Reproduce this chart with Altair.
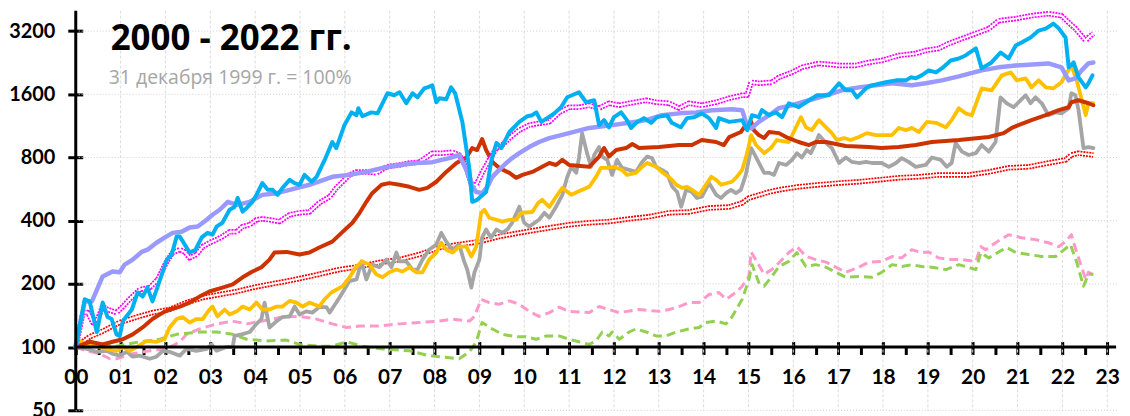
import altair as alt
import pandas as pd

TITLE = "2000 - 2022 гг."
SUBTITLE = "31 декабря 1999 г. = 100%"
Y_TICKS = [50, 100, 200, 400, 800, 1600, 3200]
X_TICKS = list(range(0, 24))
X_ALL_TICKS = [i / 2 for i in range(0, 47)]

BLUE = [(0,100),(0.2,169),(0.31,165),(0.47,118),(0.6,163),(0.71,139),(0.8,136),(0.91,115),(0.98,113),(1.05,133),(1.25,151),(1.38,182),(1.49,174),(1.6,192),(1.71,165),(1.83,195),(2.03,261),(2.14,276),(2.25,336),(2.32,336),(2.43,308),(2.54,282),(2.67,291),(2.81,333),(2.94,350),(3.05,343),(3.14,375),(3.27,391),(3.43,451),(3.54,465),(3.61,513),(3.72,442),(3.81,460),(3.94,492),(4.05,541),(4.16,604),(4.28,561),(4.39,561),(4.5,531),(4.61,573),(4.77,626),(4.88,604),(4.99,593),(5.1,661),(5.26,613),(5.37,647),(5.55,779),(5.72,948),(5.81,887),(5.99,1141),(6.15,1312),(6.26,1272),(6.3,1374),(6.39,1258),(6.59,1312),(6.73,1298),(6.84,1450),(6.95,1618),(7.1,1583),(7.22,1636),(7.37,1450),(7.51,1618),(7.62,1548),(7.77,1708),(7.84,1726),(7.95,1765),(8.04,1466),(8.11,1532),(8.26,1515),(8.37,1726),(8.46,1618),(8.62,1182),(8.78,698),(8.84,492),(8.95,503),(9.15,548),(9.27,779),(9.38,938),(9.49,887),(9.67,1058),(9.89,1182),(10.07,1258),(10.18,1272),(10.27,1312),(10.38,1182),(10.51,1232),(10.67,1298),(10.82,1388),(10.96,1548),(11.22,1636),(11.38,1466),(11.56,1499),(11.67,1141),(11.78,1205),(11.89,1114),(12.0,1245),(12.16,1312),(12.29,1205),(12.38,1106),(12.52,1182),(12.67,1232),(12.83,1170),(12.96,1245),(13.18,1272),(13.29,1170),(13.49,1114),(13.63,1232),(13.79,1245),(13.96,1298),(14.12,1232),(14.28,1106),(14.34,1232),(14.57,1182),(14.86,1205),(14.97,1080),(15.08,1272),(15.23,1245),(15.3,1344),(15.46,1272),(15.61,1312),(15.75,1245),(15.9,1450),(16.12,1391),(16.35,1499),(16.53,1583),(16.79,1583),(17.02,1805),(17.17,1671),(17.31,1671),(17.42,1548),(17.62,1708),(17.75,1765),(18.06,1825),(18.29,1864),(18.51,1864),(18.62,1927),(18.73,1906),(18.86,1969),(19.02,2079),(19.18,2034),(19.31,2125),(19.51,2319),(19.69,2370),(19.84,2449),(20.07,2650),(20.2,2125),(20.42,2269),(20.62,2530),(20.8,2370),(20.96,2732),(21.09,2825),(21.29,2985),(21.47,3218),(21.63,3289),(21.8,3474),(21.92,3289),(22.07,2985),(22.14,2150),(22.25,2269),(22.36,1927),(22.52,1726),(22.58,1805),(22.67,1969)]

LAVENDER = [(0,100),(0.2,165),(0.36,165),(0.6,217),(0.82,229),(0.98,227),(1.09,247),(1.27,261),(1.47,284),(1.6,291),(1.8,314),(1.98,332),(2.16,350),(2.36,354),(2.54,371),(2.72,375),(2.92,404),(3.05,427),(3.21,451),(3.39,492),(3.59,476),(3.88,492),(4.16,531),(4.48,541),(4.77,561),(5.21,593),(5.72,647),(6.1,661),(6.48,683),(6.84,714),(7.22,737),(7.59,753),(7.95,760),(8.33,795),(8.55,822),(8.71,698),(8.82,593),(8.93,548),(9.06,541),(9.18,580),(9.29,647),(9.44,698),(9.6,753),(9.73,795),(9.89,839),(10.11,897),(10.33,948),(10.56,990),(11.0,1045),(11.45,1106),(11.96,1141),(12.34,1170),(12.72,1205),(13.07,1272),(13.45,1298),(13.83,1312),(14.19,1344),(14.63,1357),(14.86,1344),(14.97,1130),(15.06,1100),(15.23,1182),(15.46,1272),(15.68,1374),(15.97,1419),(16.35,1499),(16.73,1583),(17.08,1671),(17.46,1726),(17.84,1765),(18.2,1805),(18.64,1765),(18.95,1805),(19.31,1864),(19.69,1948),(20.2,2079),(20.58,2150),(20.96,2196),(21.69,2245),(21.98,2150),(22.14,1864),(22.29,1906),(22.43,2079),(22.58,2245),(22.69,2269)]

MAGENTA = [(0,100),(0.16,146),(0.27,146),(0.38,131),(0.49,136),(0.6,156),(0.71,151),(0.91,146),(1.05,156),(1.2,169),(1.43,188),(1.65,192),(1.83,210),(2.03,256),(2.16,282),(2.32,291),(2.43,284),(2.54,266),(2.69,276),(2.83,301),(2.98,314),(3.14,325),(3.27,336),(3.43,354),(3.59,354),(3.72,375),(3.88,383),(4.03,404),(4.16,408),(4.32,404),(4.54,396),(4.77,427),(4.99,436),(5.21,440),(5.43,486),(5.66,520),(5.81,573),(5.95,613),(6.1,661),(6.26,683),(6.48,683),(6.7,676),(6.93,722),(7.22,737),(7.44,753),(7.66,760),(7.95,839),(8.17,839),(8.4,848),(8.55,822),(8.71,722),(8.82,593),(8.93,593),(9.06,676),(9.22,779),(9.38,887),(9.51,917),(9.67,990),(9.89,1080),(10.11,1141),(10.33,1164),(10.56,1182),(10.78,1312),(11.0,1388),(11.22,1388),(11.45,1419),(11.67,1374),(11.89,1450),(12.12,1419),(12.34,1450),(12.72,1499),(12.94,1466),(13.23,1450),(13.45,1374),(13.67,1450),(13.96,1419),(14.28,1466),(14.57,1532),(14.86,1583),(14.97,1583),(15.06,1825),(15.23,1805),(15.52,1825),(15.68,1927),(15.97,2034),(16.19,2150),(16.57,2245),(17.02,2196),(17.39,2196),(17.68,2269),(17.97,2319),(18.35,2449),(18.73,2504),(18.95,2587),(19.24,2643),(19.47,2793),(19.76,2948),(20.07,3114),(20.36,3288),(20.58,3588),(20.96,3668),(21.31,3790),(21.69,3874),(21.98,3790),(22.14,3513),(22.29,3288),(22.52,2885),(22.58,2982),(22.69,3114)]

DARKRED = [(0,100),(0.31,106),(0.6,103),(0.82,106),(1.05,109),(1.27,115),(1.49,124),(1.71,136),(1.94,146),(2.09,151),(2.32,156),(2.54,163),(2.76,174),(2.98,184),(3.27,192),(3.5,199),(3.72,215),(3.94,229),(4.14,240),(4.32,261),(4.43,282),(4.7,284),(4.99,276),(5.21,282),(5.43,298),(5.72,318),(5.95,354),(6.17,391),(6.33,436),(6.48,492),(6.61,541),(6.82,593),(6.99,604),(7.22,593),(7.44,580),(7.66,561),(7.84,573),(8.04,613),(8.26,683),(8.49,753),(8.71,800),(8.84,887),(8.95,868),(9.06,980),(9.15,868),(9.29,762),(9.44,714),(9.67,676),(9.82,640),(9.96,661),(10.18,683),(10.4,722),(10.56,753),(10.71,737),(10.85,779),(11.0,737),(11.45,722),(11.67,808),(11.78,887),(11.89,808),(12.05,868),(12.27,887),(12.41,927),(12.56,887),(13.01,897),(13.45,917),(13.74,917),(13.96,969),(14.28,948),(14.45,917),(14.57,1001),(14.83,1058),(14.94,1141),(15.06,1182),(15.12,1080),(15.23,1023),(15.35,990),(15.46,1058),(15.68,1045),(15.84,1001),(16.12,948),(16.35,917),(16.5,948),(16.73,948),(17.17,907),(17.68,897),(17.97,887),(18.35,897),(18.73,917),(19.09,948),(19.69,969),(20.36,1001),(20.69,1045),(20.87,1106),(21.02,1141),(21.31,1205),(21.63,1272),(21.92,1344),(22.14,1388),(22.2,1466),(22.36,1499),(22.58,1450),(22.69,1419)]

RED = [(0,100),(0.31,112),(0.6,119),(0.98,131),(1.36,139),(1.71,146),(2.09,151),(2.47,163),(2.83,172),(3.21,178),(3.59,184),(3.94,192),(4.32,199),(4.7,206),(5.21,217),(5.88,234),(6.33,242),(6.77,253),(7.22,261),(7.66,276),(8.11,298),(8.55,308),(9.0,318),(9.44,336),(9.89,350),(10.33,363),(11.0,383),(11.45,391),(11.89,396),(12.34,408),(12.78,418),(13.23,436),(13.67,440),(14.12,460),(14.57,465),(14.86,486),(15.01,513),(15.46,548),(15.68,561),(16.12,580),(16.57,593),(17.02,604),(17.46,613),(17.91,626),(18.35,640),(18.8,647),(19.24,661),(19.91,661),(20.36,683),(20.8,714),(21.25,722),(21.69,753),(22.07,779),(22.2,822),(22.36,839),(22.69,822)]

YELLOW = [(0,100),(0.09,107),(0.24,103),(0.47,101),(0.69,98),(0.91,96),(1.05,100),(1.2,96),(1.36,100),(1.58,107),(1.8,106),(1.98,109),(2.09,124),(2.25,136),(2.38,139),(2.54,131),(2.69,136),(2.83,136),(2.98,151),(3.05,156),(3.16,140),(3.32,151),(3.43,143),(3.59,148),(3.72,156),(3.88,151),(4.03,163),(4.16,151),(4.32,151),(4.48,156),(4.61,156),(4.77,166),(4.92,163),(5.06,156),(5.21,163),(5.43,156),(5.55,169),(5.7,182),(5.95,195),(6.1,214),(6.26,242),(6.39,256),(6.55,247),(6.7,222),(6.84,215),(6.99,227),(7.15,234),(7.28,229),(7.44,240),(7.59,227),(7.73,227),(7.88,261),(8.04,282),(8.15,314),(8.26,291),(8.4,282),(8.55,301),(8.71,301),(8.82,270),(8.93,301),(9.04,436),(9.11,451),(9.22,413),(9.38,404),(9.51,396),(9.67,404),(9.82,404),(9.93,436),(10.18,440),(10.31,486),(10.4,503),(10.56,465),(10.71,520),(10.85,573),(11.05,531),(11.18,548),(11.45,580),(11.6,647),(11.71,714),(11.85,714),(12.0,722),(12.18,698),(12.29,661),(12.49,676),(12.63,722),(12.74,753),(12.94,722),(13.07,683),(13.27,633),(13.39,593),(13.52,573),(13.63,580),(13.74,561),(13.9,531),(14.05,593),(14.17,647),(14.28,626),(14.39,593),(14.63,613),(14.74,647),(14.86,698),(14.97,839),(15.06,1023),(15.17,917),(15.35,839),(15.5,887),(15.63,969),(15.9,948),(16.06,1114),(16.17,1245),(16.28,1114),(16.41,1080),(16.57,1205),(16.73,1114),(16.86,1045),(16.97,969),(17.13,990),(17.28,969),(17.46,1001),(17.64,1045),(17.84,1023),(18.2,1023),(18.35,1106),(18.51,1080),(18.64,1106),(18.8,1058),(18.98,1182),(19.18,1170),(19.4,1114),(19.53,1205),(19.69,1374),(19.84,1298),(19.98,1272),(20.2,1708),(20.42,1671),(20.65,1969),(20.85,2034),(20.98,1864),(21.18,1906),(21.31,1726),(21.47,1864),(21.63,1726),(21.8,1708),(21.98,1825),(22.09,2011),(22.2,2196),(22.32,1864),(22.52,1272),(22.58,1450),(22.69,1450)]

GRAY = [(0,100),(0.24,98),(0.47,95),(0.69,96),(0.82,93),(0.98,91),(1.14,95),(1.27,90),(1.43,91),(1.65,88),(1.8,90),(1.94,96),(2.09,95),(2.32,91),(2.47,98),(2.69,96),(2.92,98),(3.03,103),(3.14,96),(3.36,100),(3.5,100),(3.54,113),(3.7,115),(3.88,118),(4.03,129),(4.14,136),(4.21,163),(4.32,124),(4.48,133),(4.61,139),(4.77,140),(4.88,156),(4.99,143),(5.14,148),(5.28,146),(5.43,155),(5.59,155),(5.66,146),(5.81,163),(5.95,182),(6.1,206),(6.26,210),(6.37,256),(6.48,210),(6.61,247),(6.77,240),(6.93,261),(7.04,240),(7.15,282),(7.22,256),(7.37,256),(7.51,234),(7.62,234),(7.73,261),(7.88,291),(8.04,308),(8.15,350),(8.26,318),(8.4,291),(8.55,308),(8.66,256),(8.73,234),(8.82,192),(8.89,227),(9.0,261),(9.06,332),(9.15,363),(9.26,332),(9.38,363),(9.51,350),(9.62,363),(9.73,391),(9.89,466),(10.0,391),(10.11,375),(10.33,404),(10.45,436),(10.56,413),(10.71,466),(10.85,531),(10.96,647),(11.05,722),(11.16,676),(11.22,795),(11.29,1045),(11.4,839),(11.49,722),(11.56,822),(11.67,897),(11.74,808),(11.85,779),(11.96,661),(12.07,779),(12.18,714),(12.34,698),(12.49,683),(12.63,762),(12.74,808),(12.85,795),(12.94,722),(13.07,698),(13.18,676),(13.3,580),(13.41,548),(13.5,466),(13.61,561),(13.74,548),(13.85,513),(13.96,520),(14.12,604),(14.28,531),(14.39,513),(14.5,541),(14.61,561),(14.72,541),(14.83,561),(14.94,661),(15.06,887),(15.17,800),(15.28,722),(15.35,676),(15.46,676),(15.57,661),(15.68,753),(15.84,737),(15.97,779),(16.08,839),(16.19,800),(16.3,868),(16.39,839),(16.5,938),(16.57,1023),(16.73,938),(16.86,887),(17.02,753),(17.17,800),(17.31,762),(17.46,753),(17.62,762),(17.75,753),(17.97,753),(18.13,722),(18.29,753),(18.42,795),(18.57,762),(18.73,722),(18.95,737),(19.09,800),(19.29,779),(19.42,722),(19.53,753),(19.62,938),(19.76,853),(19.91,822),(20.07,839),(20.2,917),(20.36,853),(20.51,948),(20.62,1548),(20.76,1450),(20.91,1388),(21.07,1499),(21.18,1583),(21.29,1450),(21.4,1548),(21.54,1450),(21.69,1272),(21.85,1312),(21.98,1298),(22.14,1374),(22.2,1618),(22.29,1583),(22.36,1344),(22.47,887),(22.58,897),(22.69,887)]

PINK = [(0,100),(0.24,96),(0.53,93),(0.76,88),(0.91,88),(1.27,93),(1.65,96),(2.03,98),(2.32,106),(2.47,115),(2.76,122),(3.14,129),(3.5,133),(3.81,129),(4.16,133),(4.61,139),(4.99,140),(5.37,136),(5.72,129),(6.04,124),(6.33,126),(6.77,126),(7.22,129),(7.66,131),(8.11,133),(8.4,136),(8.78,133),(8.89,140),(9.04,169),(9.22,163),(9.44,160),(9.67,166),(9.89,160),(10.11,148),(10.33,140),(10.56,146),(10.78,155),(11.0,148),(11.45,146),(11.67,156),(11.89,151),(12.12,146),(12.56,151),(13.01,148),(13.23,151),(13.45,156),(13.67,163),(13.9,163),(14.12,178),(14.34,182),(14.5,169),(14.72,182),(14.86,195),(15.01,217),(15.06,284),(15.35,222),(15.52,234),(15.68,252),(15.9,282),(16.08,301),(16.28,271),(16.5,261),(16.73,254),(16.95,240),(17.17,227),(17.46,240),(17.68,254),(17.97,256),(18.2,270),(18.42,266),(18.64,291),(18.86,282),(19.02,284),(19.24,266),(19.53,261),(19.76,261),(20.07,256),(20.18,301),(20.29,291),(20.51,314),(20.8,343),(21.09,332),(21.4,325),(21.69,314),(21.92,301),(22.07,318),(22.2,343),(22.32,282),(22.43,240),(22.52,210),(22.58,227),(22.69,222)]

GREEN = [(0,100),(0.24,107),(0.91,101),(1.43,106),(1.87,109),(2.25,115),(2.76,118),(3.14,118),(3.5,115),(3.81,109),(4.25,107),(4.7,108),(4.99,103),(5.43,101),(5.72,101),(6.04,106),(6.39,101),(6.84,98),(7.44,96),(7.88,91),(8.11,90),(8.55,88),(8.78,95),(8.93,106),(9.06,131),(9.29,122),(9.51,115),(9.82,112),(10.04,112),(10.27,109),(10.49,113),(10.78,113),(11.0,109),(11.22,106),(11.45,103),(11.6,107),(11.74,118),(11.89,113),(11.96,118),(12.12,109),(12.34,118),(12.49,122),(12.72,118),(12.94,113),(13.16,113),(13.39,118),(13.67,122),(13.9,124),(14.05,131),(14.28,133),(14.5,129),(14.63,139),(14.86,169),(15.01,210),(15.08,247),(15.23,203),(15.35,195),(15.52,217),(15.68,242),(15.9,256),(16.08,282),(16.28,242),(16.5,247),(16.73,240),(16.95,227),(17.17,215),(17.46,217),(17.75,215),(17.97,227),(18.2,247),(18.42,242),(18.64,247),(18.86,242),(19.09,240),(19.4,234),(19.69,247),(20.07,234),(20.18,282),(20.36,266),(20.58,284),(20.76,298),(20.96,282),(21.25,276),(21.54,270),(21.85,270),(21.98,284),(22.18,308),(22.32,253),(22.47,195),(22.58,222),(22.69,222)]

W, H = 1046, 401
X_MAX = 23.24
Y_MIN, Y_MAX = 50, 4000
LABEL_FONT = "Lato"
X_AXIS_SHIFT = -63          # bottom axis moved up onto the 100 line
TOP_AXIS_SHIFT = -(H + X_AXIS_SHIFT)   # top axis moved down onto the same line

xs = alt.Scale(domain=[0, X_MAX], nice=False, zero=False)
ys = alt.Scale(type="log", domain=[Y_MIN, Y_MAX], nice=False)

x_axis = alt.Axis(values=X_ALL_TICKS, title=None, grid=False, domain=False,
                  ticks=True, tickSize=7, tickWidth=3, tickColor="black", tickCap="butt",
                  offset=X_AXIS_SHIFT, labelPadding=12, labelFont=LABEL_FONT, labelFontWeight="bold",
                  labelFontSize=21, labelColor="black", labelFlush=False, labelOverlap=False,
                  labelExpr="datum.value % 1 != 0 ? '' : (datum.value < 10 ? '0' + datum.value : '' + datum.value)")
y_axis = alt.Axis(values=Y_TICKS, title=None, grid=False, domain=False,
                  ticks=True, tickSize=8, tickWidth=3, tickColor="black", tickCap="butt",
                  labelPadding=13, labelFont=LABEL_FONT, labelFontWeight="bold", format="d",
                  labelFontSize=20, labelColor="black", labelFlush=False, labelOverlap=False)

x_axis_top = alt.Axis(orient="top", values=X_TICKS, title=None, grid=False, domain=False, labels=False,
                      ticks=True, tickSize=6, tickWidth=3, tickColor="black", tickCap="butt",
                      offset=TOP_AXIS_SHIFT)
y_axis_right = alt.Axis(orient="right", values=Y_TICKS, title=None, grid=False, domain=False, labels=False,
                        ticks=True, tickSize=7, tickWidth=3, tickColor="black", tickCap="butt",
                        offset=-W)


def X():
    return alt.X("year:Q", scale=xs, axis=x_axis)


def Y():
    return alt.Y("value:Q", scale=ys, axis=y_axis)


def series_df(points):
    return pd.DataFrame(points, columns=["year", "value"])


def line(points, color, width, dash=None):
    kw = dict(color=color, strokeWidth=width, strokeJoin="round", strokeCap="round")
    if dash is not None:
        kw["strokeDash"] = dash
        kw["strokeCap"] = "butt"
    return alt.Chart(series_df(points)).mark_line(**kw).encode(x=X(), y=Y())


hgrid = alt.Chart(pd.DataFrame({"value": Y_TICKS})).mark_rule(
    color="#CFCFCF", strokeDash=[1, 2], strokeWidth=1
).encode(y=Y(), x=alt.value(0), x2=alt.value(W))
vgrid = alt.Chart(pd.DataFrame({"year": X_TICKS})).mark_rule(
    color="#DCDCDC", strokeDash=[3, 2], strokeWidth=1
).encode(x=X(), y=alt.value(0), y2=alt.value(H))

layers = [
    hgrid, vgrid,
    line(PINK, "#FF99CC", 3, [9, 5]),
    line(GREEN, "#92D050", 3, [9, 5]),
    line(RED, "#FF0000", 5.5, [2, 1]),
    line(RED, "#FFFFFF", 2),
    line(GRAY, "#A5A5A5", 3.8),
    line(YELLOW, "#FFC000", 3.8),
    line(DARKRED, "#CC3300", 4),
    line(MAGENTA, "#FF00FF", 5.5, [2, 1]),
    line(MAGENTA, "#FFFFFF", 2),
    line(LAVENDER, "#9999FF", 4.5),
    line(BLUE, "#00B0F0", 4),
]

axis_y_line = alt.Chart(pd.DataFrame({"year": [0]})).mark_rule(color="black", strokeWidth=3).encode(
    x=X(), y=alt.value(0), y2=alt.value(H))
axis_x_line = alt.Chart(pd.DataFrame({"value": [100]})).mark_rule(color="black", strokeWidth=3).encode(
    y=Y(), x=alt.value(0), x2=alt.value(W - 2))

title = alt.Chart(pd.DataFrame({"t": [TITLE]})).mark_text(
    font="Open Sans", fontSize=35, fontWeight="bold", color="black", align="center",
    baseline="alphabetic").encode(text="t:N", x=alt.value(156), y=alt.value(39))
subtitle = alt.Chart(pd.DataFrame({"t": [SUBTITLE]})).mark_text(
    font="Open Sans", fontSize=19.5, color="#A6A6A6", align="center",
    baseline="alphabetic").encode(text="t:N", x=alt.value(155), y=alt.value(74))

layers += [axis_y_line, axis_x_line, title, subtitle]
main = alt.layer(*layers)

# carrier for the upper / right halves of the crossing tick marks
tick_carrier = alt.Chart(pd.DataFrame({"year": [0], "value": [100]})).mark_point(opacity=0).encode(
    x=alt.X("year:Q", scale=xs, axis=x_axis_top),
    y=alt.Y("value:Q", scale=ys, axis=y_axis_right),
)

chart = alt.layer(main, tick_carrier).resolve_axis(x="independent", y="independent").properties(
    width=W, height=H,
    padding={"left": 68, "top": 2, "right": 4, "bottom": 10},
    autosize=alt.AutoSizeParams(type="none"),
    background="white",
).configure_view(stroke=None)

chart.save("out.html", embed_options={"renderer": "svg", "actions": False})
